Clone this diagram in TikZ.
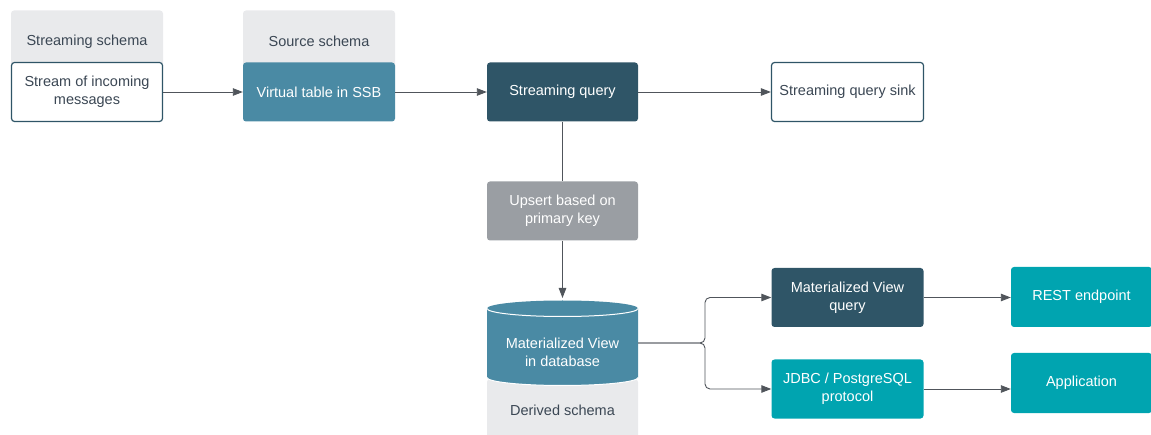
\documentclass[tikz,border=0pt]{standalone}
\usepackage{fontspec}
\setmainfont{Liberation Sans}
\usetikzlibrary{arrows.meta,positioning}
\definecolor{schemagray}{HTML}{E9EAEC}
\definecolor{srcblue}{HTML}{4A8AA4}
\definecolor{deepteal}{HTML}{2F5567}
\definecolor{keygray}{HTML}{9A9EA3}
\definecolor{brightteal}{HTML}{00A4B0}
\definecolor{inkdark}{HTML}{3B4754}
\definecolor{wiregray}{HTML}{50555B}

\begin{document}
\begin{tikzpicture}[x=1pt,y=1pt,
  box/.style={rectangle,rounded corners=3pt,minimum width=152pt,minimum height=59pt,
    align=center,inner sep=2pt,font=\fontsize{14.5}{18}\selectfont},
  schema/.style={box,fill=schemagray,text=inkdark,minimum height=62pt},
  plainbox/.style={box,fill=white,draw=deepteal,line width=1.2pt,text=inkdark},
  srcbox/.style={box,fill=srcblue,text=white},
  darkbox/.style={box,fill=deepteal,text=white},
  keybox/.style={box,fill=keygray,text=white},
  tealbox/.style={box,fill=brightteal,text=white},
  wire/.style={draw=wiregray,line width=0.9pt},
  arr/.style={wire,-{Triangle[length=10pt,width=7.5pt]}}]
  \useasboundingbox (0,0) rectangle (1151,-435);
  % top row
  \node[schema] (streamschema) at (87,-41.5) {Streaming schema};
  \node[plainbox,minimum width=151pt] (stream) at (87,-92) {Stream of incoming\\messages};
  \node[schema] (sourceschema) at (319,-41.5) {Source schema};
  \node[srcbox] (vtable) at (319,-92) {Virtual table in SSB};
  \node[darkbox,minimum width=151pt] (squery) at (562.5,-92) {Streaming query};
  \node[plainbox,minimum width=152pt] (sink) at (847.5,-92) {Streaming query sink};
  \draw[arr] (stream) -- (vtable);
  \draw[arr] (vtable) -- (squery);
  \draw[arr] (squery) -- (sink);
  % upsert and view
  \node[keybox,minimum width=151pt] (upsert) at (562.5,-211) {Upsert based on\\primary key};
  \node[schema,minimum width=151pt] (derived) at (562.5,-410) {Derived schema};
  \fill[srcblue] (487,-308.5) -- (487,-377.5)
    arc[start angle=180,end angle=360,x radius=75.5,y radius=8] -- (638,-308.5)
    arc[start angle=0,end angle=180,x radius=75.5,y radius=8] -- cycle;
  \draw[white,line width=1pt] (487,-308.5) arc[start angle=180,end angle=360,x radius=75.5,y radius=8];
  \draw[white,line width=1pt] (487,-377.5) arc[start angle=180,end angle=360,x radius=75.5,y radius=8];
  \node[box,text=white,minimum width=151pt,minimum height=40pt] (mview) at (562.5,-352.5) {Materialized View\\in database};
  \coordinate (mvtop) at (562.5,-298);
  \draw[wire] (squery) -- (upsert);
  \draw[arr] (upsert) -- (mvtop);
  % consumers
  \node[darkbox] (mvquery) at (847.5,-297.5) {Materialized View\\query};
  \node[tealbox] (jdbc) at (847.5,-389) {JDBC / PostgreSQL\\protocol};
  \node[tealbox,minimum width=141pt,minimum height=60pt] (rest) at (1081.5,-297) {REST endpoint};
  \node[tealbox,minimum width=141pt,minimum height=60pt] (app) at (1081.5,-383) {Application};
  \coordinate (split) at (705,-343);
  \draw[arr,rounded corners=5pt] (split -| mview.east) -- (split) |- (mvquery.west);
  \draw[arr,rounded corners=5pt] (split -| mview.east) -- (split) |- (jdbc.west);
  \draw[arr] (mvquery.east) -- (mvquery.east -| rest.west);
  \draw[arr] (jdbc.east) -- (jdbc.east -| app.west);
\end{tikzpicture}
\end{document}
